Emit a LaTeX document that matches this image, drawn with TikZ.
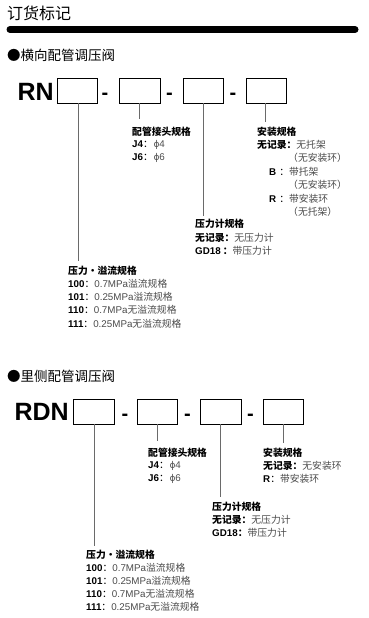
\documentclass[tikz,border=0pt]{standalone}
\usepackage{fontspec}
\setmainfont{Liberation Sans}
\newfontfamily\cjk{Noto Sans CJK SC}
\definecolor{valc}{HTML}{4A4A4A}
\definecolor{linec}{HTML}{6A6A6A}
\newcommand\zh[1]{{\cjk #1}}
\newcommand\zhb[1]{{\cjk\bfseries #1}}
\newcommand\va[1]{{\color{valc}#1}}
\begin{document}
\begin{tikzpicture}[x=1pt,y=-1pt,
  titlef/.style={anchor=west,inner sep=0,font=\cjk\fontsize{16}{16}\selectfont},
  sectf/.style={anchor=west,inner sep=0,font=\cjk\fontsize{13.5}{14}\selectfont},
  codef/.style={anchor=east,inner sep=0,font=\fontsize{25}{25}\selectfont\bfseries},
  dashf/.style={inner sep=0,font=\fontsize{20}{20}\selectfont\bfseries},
  slot/.style={draw,line width=0.7pt,minimum width=40pt,minimum height=25pt,inner sep=0},
  lbl/.style={anchor=west,inner sep=0,font=\fontsize{9.8}{11}\selectfont},
  conn/.style={draw=linec,line width=0.9pt}]
\useasboundingbox (0,0) rectangle (368,618);
\node[titlef] (title) at (7,13) {订货标记};
\draw[line width=7pt,line cap=round] (10,29.5) -- (355,29.5);
\node[sectf] (s1) at (7,55) {●横向配管调压阀};

% ---- Row 1
\node[codef] (rn) at (54,92) {RN};
\node[slot] (a1) at (77,90.5) {};
\node[dashf] (ad1) at (105,96) {-};
\node[slot,minimum width=41pt] (a2) at (139.5,90.5) {};
\node[dashf] (ad2) at (169.5,96) {-};
\node[slot] (a3) at (203,90.5) {};
\node[dashf] (ad3) at (233,96) {-};
\node[slot] (a4) at (266,90.5) {};

\coordinate (ae1) at (78,261);
\coordinate (ae2) at (139,119);
\coordinate (ae3) at (203,216);
\coordinate (ae4) at (265,122);
\draw[conn] (a1.south -| ae1) -- (ae1);
\draw[conn] (a2.south -| ae2) -- (ae2);
\draw[conn] (a3.south -| ae3) -- (ae3);
\draw[conn] (a4.south -| ae4) -- (ae4);

% block 2
\node[lbl] (ah2) at (132,132) {\zhb{配管接头规格}};
\node[lbl] (aj4) at (132,145) {\textbf{J4}\zh{：}\hspace{1pt}\va{ϕ4}};
\node[lbl] (aj6) at (132,157.5) {\textbf{J6}\zh{：}\hspace{1pt}\va{ϕ6}};
% block 4
\node[lbl] (ah4) at (257,132) {\zhb{安装规格}};
\node[lbl] (am0) at (257,145) {\zhb{无记录：}\va{\zh{无托架}}};
\node[lbl] (am0b) at (288,158) {\va{\zh{（无安装环）}}};
\node[lbl] (amB) at (269,172) {\textbf{B}\hspace{3pt}\zh{：}\va{\zh{带托架}}};
\node[lbl] (amBb) at (288,185) {\va{\zh{（无安装环）}}};
\node[lbl] (amR) at (269,198.5) {\textbf{R}\hspace{3pt}\zh{：}\va{\zh{带安装环}}};
\node[lbl] (amRb) at (288,212) {\va{\zh{（无托架）}}};
% block 3
\node[lbl] (ah3) at (195,224) {\zhb{压力计规格}};
\node[lbl] (ag0) at (195,237.5) {\zhb{无记录：}\va{\zh{无压力计}}};
\node[lbl] (ag1) at (195,251) {\textbf{GD18}\hspace{2pt}\zhb{：}\va{\zh{带压力计}}};
% block 1
\node[lbl] (ah1) at (68,271) {\zhb{压力・溢流规格}};
\node[lbl] (ap0) at (68,284) {\textbf{100}\zh{：}\va{0.7MPa\zh{溢流规格}}};
\node[lbl] (ap1) at (68,297) {\textbf{101}\zh{：}\va{0.25MPa\zh{溢流规格}}};
\node[lbl] (ap2) at (68,310) {\textbf{110}\zh{：}\va{0.7MPa\zh{无溢流规格}}};
\node[lbl] (ap3) at (68,324) {\textbf{111}\zh{：}\va{0.25MPa\zh{无溢流规格}}};

% ---- Row 2
\node[sectf] (s2) at (7,376) {●里侧配管调压阀};
\node[codef] (rdn) at (69,412) {RDN};
\node[slot,minimum width=41pt] (b1) at (93.5,411.5) {};
\node[dashf] (bd1) at (125,417) {-};
\node[slot] (b2) at (157,411.5) {};
\node[dashf] (bd2) at (187.5,417) {-};
\node[slot,minimum width=41pt] (b3) at (220.5,411.5) {};
\node[dashf] (bd3) at (250.5,417) {-};
\node[slot] (b4) at (283,411.5) {};

\coordinate (be1) at (94,546);
\coordinate (be2) at (157,441);
\coordinate (be3) at (220,497);
\coordinate (be4) at (283,443);
\draw[conn] (b1.south -| be1) -- (be1);
\draw[conn] (b2.south -| be2) -- (be2);
\draw[conn] (b3.south -| be3) -- (be3);
\draw[conn] (b4.south -| be4) -- (be4);

% block 2
\node[lbl] (bh2) at (148,452.5) {\zhb{配管接头规格}};
\node[lbl] (bj4) at (148,465.5) {\textbf{J4}\zh{：}\hspace{1pt}\va{ϕ4}};
\node[lbl] (bj6) at (148,478.5) {\textbf{J6}\zh{：}\hspace{1pt}\va{ϕ6}};
% block 4
\node[lbl] (bh4) at (263,452.5) {\zhb{安装规格}};
\node[lbl] (bm0) at (263,465.5) {\zhb{无记录：}\va{\zh{无安装环}}};
\node[lbl] (bmR) at (263,478.5) {\textbf{R}\zh{：}\va{\zh{带安装环}}};
% block 3
\node[lbl] (bh3) at (212,507) {\zhb{压力计规格}};
\node[lbl] (bg0) at (212,520) {\zhb{无记录：}\va{\zh{无压力计}}};
\node[lbl] (bg1) at (212,533) {\textbf{GD18}\zhb{：}\va{\zh{带压力计}}};
% block 1
\node[lbl] (bh1) at (86,555) {\zhb{压力・溢流规格}};
\node[lbl] (bp0) at (86,568) {\textbf{100}\zh{：}\va{0.7MPa\zh{溢流规格}}};
\node[lbl] (bp1) at (86,581) {\textbf{101}\zh{：}\va{0.25MPa\zh{溢流规格}}};
\node[lbl] (bp2) at (86,594) {\textbf{110}\zh{：}\va{0.7MPa\zh{无溢流规格}}};
\node[lbl] (bp3) at (86,607) {\textbf{111}\zh{：}\va{0.25MPa\zh{无溢流规格}}};
\end{tikzpicture}
\end{document}
